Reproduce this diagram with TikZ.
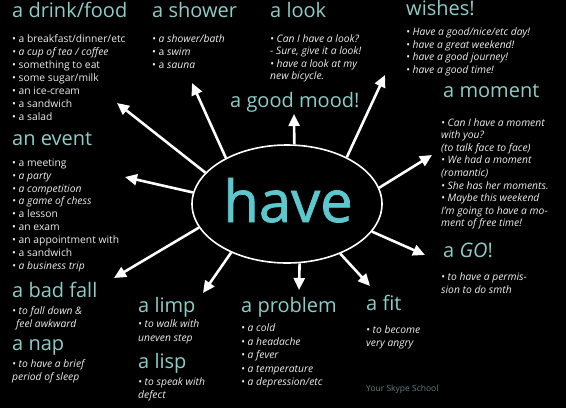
\documentclass[tikz,border=0pt]{standalone}
\usepackage{fontspec}
\setmainfont{Open Sans}
\newfontfamily\havefont[FakeBold=1.2]{Open Sans}
\usetikzlibrary{arrows.meta,shapes.geometric}
\definecolor{headc}{RGB}{140,205,200}
\definecolor{havec}{RGB}{90,200,205}
\definecolor{bodyc}{RGB}{238,238,238}
\definecolor{markc}{RGB}{95,130,130}
\begin{document}
\begin{tikzpicture}[x=1pt,y=-1pt,
 head/.style={anchor=base west, inner sep=0pt, text=headc, font=\fontsize{20}{22}\selectfont},
 items/.style={anchor=north west, inner sep=0pt, text=bodyc, align=left, font=\fontsize{10.3}{#1}\selectfont},
 items/.default=13,
 ray/.style={draw=white, line width=2.6pt, -{Triangle[length=12pt,width=11pt]}},
]
\fill[black] (0,0) rectangle (566,408);
\useasboundingbox (0,0) rectangle (566,408);

% headings
\node[head] (hdrink) at (12,17) {a drink/food};
\node[head] (hshower) at (152,17) {a shower};
\node[head] (hlook) at (270,17) {a look};
\node[head] (hwish) at (406,15) {wishes!};
\node[head] (hmood) at (230,107) {a good mood!};
\node[head] (hmoment) at (443,97) {a moment};
\node[head] (hgo) at (443,257) {a \textit{GO}!};
\node[head] (hevent) at (12,145) {an event};
\node[head] (hfall) at (12,297) {a bad fall};
\node[head] (hnap) at (12,350) {a nap};
\node[head] (hlimp) at (138,312) {a limp};
\node[head] (hlisp) at (138,368) {a lisp};
\node[head] (hprob) at (241,312) {a problem};
\node[head] (hfit) at (366,310) {a fit};

% item lists
\node[items] (idrink) at (12,33) {\strut• a breakfast/dinner/etc\\ \textit{• a cup of tea / coffee}\\ • something to eat\\ • some sugar/milk\\ • an ice-cream\\ • a sandwich\\ • a salad};
\node[items] (ishower) at (152,33) {\strut\textit{• a shower/bath}\\ • a \textit{swim}\\ • a \textit{sauna}};
\node[items=12.5] (ilook) at (270,33.5) {\itshape\strut• Can I have a look?\\ \itshape - Sure, give it a look!\\ \itshape • have a look at my\\ \itshape new bicycle.};
\node[items=12.5] (iwish) at (406,27) {\itshape\strut• Have a good/nice/etc day!\\ \itshape • have a great weekend!\\ \itshape • have a good journey!\\ \itshape • have a good time!};
\node[items=12.6] (imoment) at (441,117) {\itshape\strut• Can I have a moment\\ \itshape with you?\\ \itshape (to talk face to face)\\ \itshape • We had a moment\\ \itshape (romantic)\\ \itshape • She has her moments.\\ \itshape • Maybe this weekend\\ \itshape I'm going to have a mo-\\ \itshape ment of free time!};
\node[items=12.5] (igo) at (441,272) {\itshape\strut• to have a permis-\\ \itshape sion to do smth};
\node[items=12.9] (ievent) at (12,157) {\strut• a meeting\\ \textit{• a party}\\ \textit{• a competition}\\ \textit{• a game of chess}\\ • a lesson\\ • an exam\\ • an appointment with\\ • a sandwich\\ \textit{• a business trip}};
\node[items=12.5] (ifall) at (12,306) {\itshape\strut• to fall down \&\\ \itshape\hspace{4pt}feel awkward};
\node[items=12.5] (inap) at (12,359) {\itshape\strut• to have a brief\\ \itshape period of sleep};
\node[items=13.5] (ilimp) at (138,318) {\itshape\strut• to walk with\\ \itshape uneven step};
\node[items=13] (ilisp) at (138,376) {\itshape\strut• to speak with\\ \itshape defect};
\node[items=13.5] (iprob) at (241,322) {\itshape\strut• a cold\\ \itshape • a headache\\ \itshape • a fever\\ \itshape • a temperature\\ \itshape • a depression/etc};
\node[items=13] (ifit) at (366,324) {\itshape\strut• to become\\ \itshape very angry};

\node[anchor=base west, inner sep=0pt, text=markc, font=\fontsize{8.5}{9}\selectfont] (mark) at (366,391) {Your Skype School};

% centre
\node[ellipse, draw=white, line width=1.6pt, fill=black, minimum width=190pt, minimum height=118pt, inner sep=0pt] (have) at (287,204) {};
\node[anchor=base, inner sep=0pt, text=havec, font=\havefont\fontsize{58}{60}\selectfont] (havetext) at (288,222) {have};

% arrow tips
\coordinate (t1) at (117,103);
\coordinate (t2) at (192,83);
\coordinate (t3) at (294,114);
\coordinate (t4) at (385,75);
\coordinate (t5) at (432,155);
\coordinate (t6) at (425,255);
\coordinate (t7) at (370,286);
\coordinate (t8) at (299,290);
\coordinate (t9) at (203,293);
\coordinate (t10) at (114,278);
\coordinate (t11) at (125,177);

\draw[ray] (have.159) -- (t1);
\draw[ray] (have.143) -- (t2);
\draw[ray] (have.83) -- (t3);
\draw[ray] (have.38) -- (t4);
\draw[ray] (have.10) -- (t5);
\draw[ray] (have.-18) -- (t6);
\draw[ray] (have.-43) -- (t7);
\draw[ray] (have.-78) -- (t8);
\draw[ray] (have.-139) -- (t9);
\draw[ray] (have.-165) -- (t10);
\draw[ray] (have.173) -- (t11);
\end{tikzpicture}
\end{document}
